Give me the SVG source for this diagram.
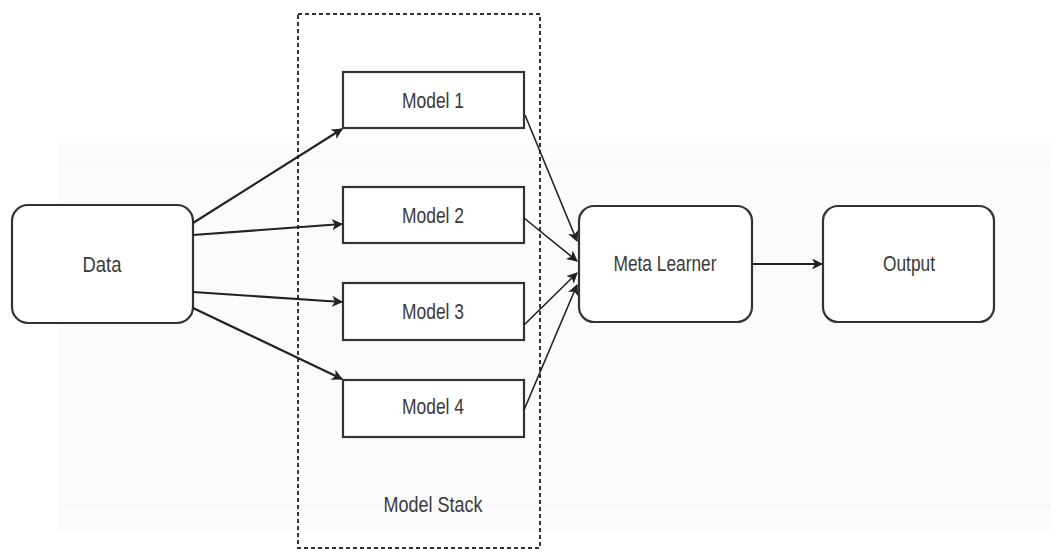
<svg xmlns="http://www.w3.org/2000/svg" width="1051" height="552" viewBox="0 0 1051 552">
<style>
.box{fill:#fff;stroke:#333;stroke-width:2.2}
.lbl{font-family:"Liberation Sans",Arial,sans-serif;font-size:22px;fill:#3a3a3a;text-anchor:middle}
.conn{stroke:#222;stroke-width:2.2;fill:none;marker-end:url(#ah)}
.thin{stroke-width:1.6}
</style>
<defs>
<marker id="ah" viewBox="0 0 10 10" refX="9" refY="5" markerWidth="11" markerHeight="11" markerUnits="userSpaceOnUse" orient="auto">
<path d="M0,0 L10,5 L0,10 L2.5,5 Z" fill="#222"/>
</marker>
</defs>
<rect width="1051" height="552" fill="#fff"/>
<g id="background" opacity="0.5">
<rect x="58" y="143" width="993" height="388" fill="#f8f8f8"/>
<line x1="58" y1="163" x2="1051" y2="163" stroke="#e8e8e8"/>
<line x1="58" y1="506" x2="1051" y2="506" stroke="#e8e8e8"/>
</g>
<g id="model-stack">
<rect x="298" y="14" width="242" height="534" fill="none" stroke="#333" stroke-width="2" stroke-dasharray="4 3"/>
<text class="lbl" x="433" y="512" textLength="99" lengthAdjust="spacingAndGlyphs">Model Stack</text>
</g>
<g id="data">
<rect class="box" x="12" y="205" width="181" height="118" rx="16"/>
<text class="lbl" x="102" y="272" textLength="39" lengthAdjust="spacingAndGlyphs">Data</text>
</g>
<g id="model1">
<rect class="box" x="343" y="72" width="181" height="56"/>
<text class="lbl" x="433" y="108" textLength="62" lengthAdjust="spacingAndGlyphs">Model 1</text>
</g>
<g id="model2">
<rect class="box" x="343" y="187" width="181" height="56"/>
<text class="lbl" x="433" y="223" textLength="62" lengthAdjust="spacingAndGlyphs">Model 2</text>
</g>
<g id="model3">
<rect class="box" x="343" y="283" width="181" height="57"/>
<text class="lbl" x="433" y="319" textLength="62" lengthAdjust="spacingAndGlyphs">Model 3</text>
</g>
<g id="model4">
<rect class="box" x="343" y="380" width="181" height="57"/>
<text class="lbl" x="433" y="414" textLength="62" lengthAdjust="spacingAndGlyphs">Model 4</text>
</g>
<g id="meta-learner">
<rect class="box" x="579" y="206" width="173" height="116" rx="15"/>
<text class="lbl" x="665" y="271" textLength="103" lengthAdjust="spacingAndGlyphs">Meta Learner</text>
</g>
<g id="output">
<rect class="box" x="823" y="206" width="171" height="116" rx="15"/>
<text class="lbl" x="909" y="271" textLength="52" lengthAdjust="spacingAndGlyphs">Output</text>
</g>
<g id="connectors">
<line class="conn" x1="193" y1="223" x2="342" y2="129"/>
<line class="conn" x1="193" y1="235" x2="342" y2="224"/>
<line class="conn" x1="193" y1="292" x2="342" y2="302"/>
<line class="conn" x1="193" y1="308" x2="342" y2="379"/>
<line class="conn thin" x1="525" y1="115" x2="577" y2="241"/>
<line class="conn thin" x1="524" y1="218" x2="577" y2="261"/>
<line class="conn thin" x1="524" y1="325" x2="577" y2="273"/>
<line class="conn thin" x1="524" y1="410" x2="577" y2="285"/>
<line class="conn" x1="752" y1="264" x2="822" y2="264"/>
</g>
</svg>
